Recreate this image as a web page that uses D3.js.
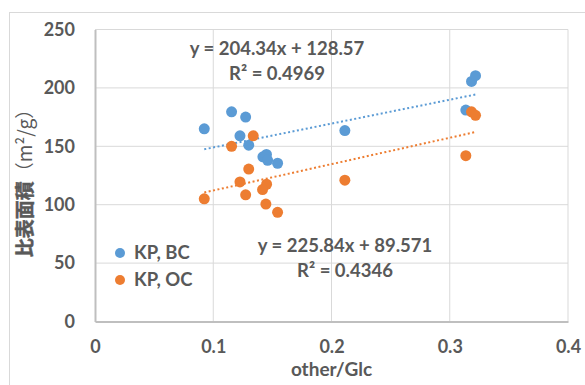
<!DOCTYPE html>
<html>
<head>
<meta charset="utf-8">
<script src="https://cdn.jsdelivr.net/npm/d3@7"></script>
<style>
  body { margin: 0; background: #fff; }
  text { font-family: Lato, "Noto Sans", sans-serif; font-weight: bold; fill: #595959; }
</style>
</head>
<body>
<div id="chart"></div>
<script>
// KP, BC
const bcX = [0.0924, 0.1155, 0.1274, 0.1226, 0.130, 0.142, 0.145, 0.146, 0.1544, 0.2113, 0.3136, 0.3184, 0.3218];
const bcY = [165, 179.5, 175, 159, 151, 141, 143, 138, 135.5, 163.5, 181, 205.5, 210.5];
// KP, OC
const ocX = [0.0924, 0.1155, 0.1338, 0.130, 0.1226, 0.1274, 0.1451, 0.1417, 0.1445, 0.1544, 0.2113, 0.3136, 0.3184, 0.3218];
const ocY = [105, 150, 159, 130.5, 119.5, 108.5, 117.5, 113, 100.5, 93.5, 121, 142, 179.5, 176.5];

const seriesNames = ["KP, BC", "KP, OC"];
const colors = ["#5B9BD5", "#ED7D31"];
const trend = [{ slope: 204.34, icept: 128.57, r2: "0.4969" }, { slope: 225.84, icept: 89.571, r2: "0.4346" }];

const xTicks = [0, 0.1, 0.2, 0.3, 0.4];
const yTicks = [0, 50, 100, 150, 200, 250];

const width = 585, height = 385;
const margin = { top: 29.5, right: 17, bottom: 63.5, left: 95 };

const svg = d3.select("#chart").append("svg")
  .attr("width", width)
  .attr("height", height);

// chart frame
svg.append("rect")
  .attr("x", 9.5).attr("y", 12.5)
  .attr("width", 580).attr("height", 380)
  .attr("fill", "none")
  .attr("stroke", "#D9D9D9");

const x = d3.scaleLinear().domain([0, 0.4]).range([margin.left, width - margin.right]);
const y = d3.scaleLinear().domain([0, 250]).range([height - margin.bottom, margin.top]);

// gridlines
svg.append("g").selectAll("line.hg")
  .data(yTicks.slice(1))
  .enter().append("line")
  .attr("x1", x(0)).attr("x2", x(0.4))
  .attr("y1", d => y(d)).attr("y2", d => y(d))
  .attr("stroke", "#D9D9D9").attr("stroke-width", 1);

svg.append("g").selectAll("line.vg")
  .data(xTicks.slice(1))
  .enter().append("line")
  .attr("y1", y(0)).attr("y2", y(250))
  .attr("x1", d => x(d)).attr("x2", d => x(d))
  .attr("stroke", "#D9D9D9").attr("stroke-width", 1);

// axes
const xAxis = svg.append("g")
  .attr("transform", "translate(0," + y(0) + ")")
  .call(d3.axisBottom(x).tickValues(xTicks).tickSize(0).tickPadding(19).tickFormat(d => d === 0 ? "0" : d3.format(".1f")(d)));
const yAxis = svg.append("g")
  .attr("transform", "translate(" + x(0) + ",0)")
  .call(d3.axisLeft(y).tickValues(yTicks).tickSize(0).tickPadding(20));

[xAxis, yAxis].forEach(a => {
  a.select(".domain").attr("stroke", "#BFBFBF").attr("stroke-width", 2);
  a.selectAll("text").style("font-size", "18px").attr("fill", "#595959");
});

// axis titles
svg.append("text")
  .attr("x", (x(0) + x(0.4)) / 2)
  .attr("y", 376)
  .attr("text-anchor", "middle")
  .style("font-size", "19px")
  .text("other/Glc");

const yTitle = svg.append("text")
  .attr("transform", "translate(32," + ((y(0) + y(250)) / 2 + 3) + ") rotate(-90)")
  .attr("text-anchor", "middle")
  .style("font-size", "19px");
yTitle.append("tspan")
  .style("font-family", "'Noto Sans CJK JP', sans-serif")
  .style("font-weight", "bold")
  .attr("stroke", "#595959")
  .attr("stroke-width", 0.5)
  .text("比表面積");
yTitle.append("tspan")
  .style("font-family", "'Noto Sans CJK JP', sans-serif")
  .style("font-weight", "normal")
  .text("（m²/g）");

const series = [
  bcX.map((v, i) => ({ x: v, y: bcY[i] })),
  ocX.map((v, i) => ({ x: v, y: ocY[i] }))
];

// trendlines
series.forEach((s, i) => {
  const ext = d3.extent(s, d => d.x);
  svg.append("line")
    .attr("x1", x(ext[0])).attr("x2", x(ext[1]))
    .attr("y1", y(trend[i].slope * ext[0] + trend[i].icept))
    .attr("y2", y(trend[i].slope * ext[1] + trend[i].icept))
    .attr("stroke", colors[i])
    .attr("stroke-width", 2)
    .attr("stroke-dasharray", "2,2.5");
});

// points
series.forEach((s, i) => {
  svg.append("g").selectAll("circle")
    .data(s)
    .enter().append("circle")
    .attr("cx", d => x(d.x))
    .attr("cy", d => y(d.y))
    .attr("r", 5.5)
    .attr("fill", colors[i]);
});

// equation labels
const eqPos = [{ cx: 277, by: 55 }, { cx: 345, by: 252 }];
trend.forEach((t, i) => {
  const g = svg.append("g");
  g.append("text")
    .attr("x", eqPos[i].cx).attr("y", eqPos[i].by)
    .attr("text-anchor", "middle")
    .style("font-size", "18.5px")
    .text("y = " + t.slope + "x + " + t.icept);
  g.append("text")
    .attr("x", eqPos[i].cx).attr("y", eqPos[i].by + 25)
    .attr("text-anchor", "middle")
    .style("font-size", "18.5px")
    .text("R² = " + t.r2);
});

// legend
const legend = svg.append("g");
seriesNames.forEach((n, i) => {
  legend.append("circle")
    .attr("cx", 120).attr("cy", 253 + i * 27)
    .attr("r", 5)
    .attr("fill", colors[i]);
  legend.append("text")
    .attr("x", 134).attr("y", 259 + i * 27)
    .style("font-size", "18.5px")
    .text(n);
});
</script>
</body>
</html>
